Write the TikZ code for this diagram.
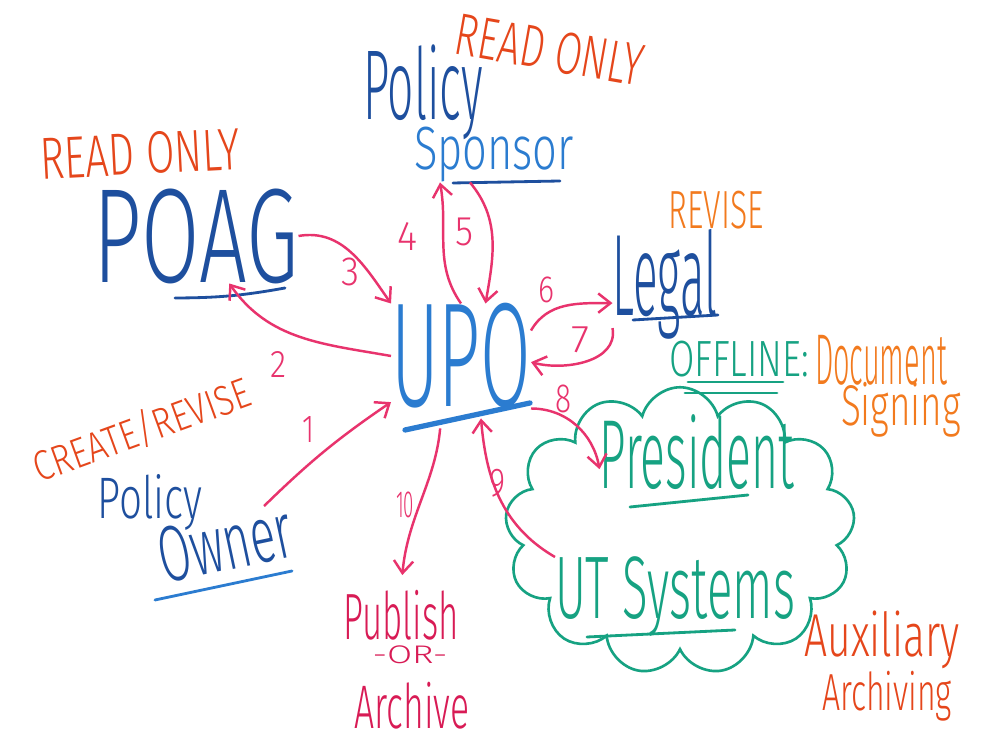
\documentclass[tikz,border=0pt]{standalone}
\usepackage{fontspec}
\IfFontExistsTF{Fira Sans Light}{\setmainfont{Fira Sans Light}}{\setmainfont{Lato}}
\usetikzlibrary{arrows.meta,shapes.symbols}

\definecolor{inkred}{HTML}{E5461B}
\definecolor{inkorange}{HTML}{F27A1E}
\definecolor{inkblue}{HTML}{1E4F9E}
\definecolor{inklight}{HTML}{2B7CD0}
\definecolor{inkpink}{HTML}{E8336D}
\definecolor{inkmagenta}{HTML}{D81B55}
\definecolor{inkteal}{HTML}{16A282}

\newlength{\hpx}
\setlength{\hpx}{0.02cm}
% font size, width, height (in px of the board), text
\newcommand{\hand}[4]{{\fontsize{#1}{#1}\selectfont\resizebox*{#2\hpx}{#3\hpx}{#4}}}

\begin{document}
\begin{tikzpicture}[x=0.02cm, y=0.02cm,
    word/.style={inner sep=0pt, outer sep=0pt},
    flow/.style={-{Straight Barb[length=7pt,width=11pt]}, line width=1.4pt, inkpink},
    uline/.style={line width=1.6pt, line cap=round}]
    \fill[white] (0,0) rectangle (1000,746);
    \useasboundingbox (0,0) rectangle (1000,746);

    \node[cloud, cloud puffs=13, cloud ignores aspect, draw=inkteal, line width=1.5pt,
          minimum width=7cm, minimum height=5.75cm] (cloud) at (680,215) {};

    \draw 
    (140,592) node[word, inkred, rotate=3](ro1){\hand{24}{200}{42}{READ ONLY}}
    (196,510) node[word, inkblue](poag){\hand{70}{205}{95}{POAG}}
    (423,654) node[word, inkblue](psp1){\hand{55}{120}{95}{Policy}}
    (494,591) node[word, inklight](psp2){\hand{32}{160}{55}{Sponsor}}
    (550,696) node[word, inkred, rotate=-10](ro2){\hand{24}{190}{42}{READ ONLY}}
    (716,536) node[word, inkorange](rev){\hand{22}{95}{38}{REVISE}}
    (665,462) node[word, inkblue](legal){\hand{62}{105}{110}{Legal}}
    (461,390) node[word, inklight](upo){\hand{75}{140}{105}{UPO}}
    (739,387) node[word, inkteal](offline){\hand{26}{140}{36}{OFFLINE:}}
    (881,386) node[word, inkorange](doc){\hand{30}{132}{50}{Document}}
    (901,336) node[word, inkorange](sign){\hand{30}{120}{55}{Signing}}
    (697,294) node[word, inkteal](pres){\hand{44}{195}{75}{President}}
    (675,149) node[word, inkteal](uts){\hand{45}{240}{80}{UT Systems}}
    (882,106) node[word, inkred](aux){\hand{37}{155}{58}{Auxiliary}}
    (887,50) node[word, inkred](arch){\hand{32}{130}{50}{Archiving}}
    (142,316) node[word, inkred, rotate=20](create){\hand{26}{228}{38}{CREATE/REVISE}}
    (150,244) node[word, inkblue](own1){\hand{38}{105}{56}{Policy}}
    (225,203) node[word, inkblue, rotate=12](own2){\hand{40}{135}{56}{Owner}}
    (401,131) node[word, inkmagenta](pub1){\hand{30}{115}{50}{Publish}}
    (410,91) node[word, inkmagenta](pub2){\hand{15}{75}{18}{-OR-}}
    (412,40) node[word, inkmagenta](pub3){\hand{30}{115}{47}{Archive}};

    % step numbers
    \draw
    (308,316) node[word, inkpink](n1){\hand{16}{12}{26}{1}}
    (278,381) node[word, inkpink](n2){\hand{16}{16}{26}{2}}
    (350,474) node[word, inkpink](n3){\hand{16}{18}{28}{3}}
    (407,509) node[word, inkpink](n4){\hand{16}{20}{28}{4}}
    (464,514) node[word, inkpink](n5){\hand{16}{18}{28}{5}}
    (546,456) node[word, inkpink](n6){\hand{16}{16}{26}{6}}
    (580,406) node[word, inkpink](n7){\hand{16}{18}{26}{7}}
    (563,347) node[word, inkpink](n8){\hand{16}{16}{28}{8}}
    (497,263) node[word, inkpink](n9){\hand{16}{16}{28}{9}}
    (405,241) node[word, inkpink](n10){\hand{16}{18}{26}{10}};

    % underlines
    \draw[uline, inkblue] (175,448) to[bend right=5] (285,458);
    \draw[uline, inkblue] (453,563) -- (560,565);
    \draw[uline, inkblue] (633,426) -- (718,431);
    \draw[uline, inklight, line width=3pt] (405,316) -- (530,343);
    \draw[uline, inkteal] (688,364) -- (783,364);
    \draw[uline, inkteal] (685,353) -- (777,353);
    \draw[uline, inkteal] (630,239) -- (748,251);
    \draw[uline, inkteal] (587,109) -- (735,116);
    \draw[uline, inklight] (155,146) -- (292,175);

    \draw[flow] (own2) to[bend left=5] (upo);
    \draw[flow] (upo.west) to[out=170,in=-55] (poag.-55);
    \draw[flow] (poag.east) to[out=10,in=125] (upo.north west);
    \draw[flow] (upo.north) to[out=125,in=-80] ([shift={(26,0)}]psp2.south west);
    \draw[flow] ([shift={(-24,0)}]psp2.south) to[out=-50,in=80] (upo.65);
    \draw[flow] (upo.20) to[out=60,in=180] (legal.200);
    \draw[flow] (legal.220) to[out=-80,in=-15] (upo.-5);
    \draw[flow] (upo.south east) to[out=0,in=100] (pres.190);
    \draw[flow, shorten >=0.2cm] (uts.north west) to[out=150,in=-85] (upo.-70);
    \draw[flow, shorten <=0.4cm, shorten >=0.3cm] (upo.-110) to[out=-95,in=85] (pub1.north);

  \end{tikzpicture}
\end{document}
